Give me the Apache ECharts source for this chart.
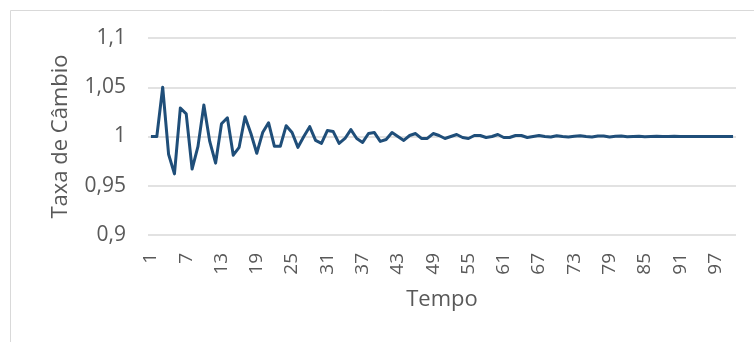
<!DOCTYPE html>
<html>
<head>
<meta charset="utf-8">
<script src="https://cdn.jsdelivr.net/npm/echarts@6/dist/echarts.min.js"></script>
<style>
  html, body { margin: 0; padding: 0; background: #ffffff; }
  #chart { width: 754px; height: 342px; }
</style>
</head>
<body>
<div id="chart"></div>
<script>
// Exchange-rate path over time (periods 1..100)
const periods = Array.from({ length: 100 }, (_, i) => String(i + 1));

const taxaCambio = [
  1.000, 1.000, 1.050, 0.982, 0.962, 1.029, 1.023, 0.967, 0.990, 1.032,
  0.995, 0.973, 1.013, 1.019, 0.981, 0.989, 1.020, 1.003, 0.983, 1.004,
  1.014, 0.990, 0.990, 1.011, 1.004, 0.989, 1.000, 1.010, 0.996, 0.993,
  1.006, 1.005, 0.993, 0.998, 1.007, 0.998, 0.994, 1.003, 1.004, 0.995,
  0.997, 1.004, 1.000, 0.996, 1.001, 1.003, 0.998, 0.998, 1.003, 1.001,
  0.998, 1.000, 1.002, 0.999, 0.998, 1.001, 1.001, 0.999, 1.000, 1.002,
  0.999, 0.999, 1.001, 1.001, 0.999, 1.000, 1.001, 1.000, 0.9995, 1.0008,
  1.000, 0.9995, 1.0003, 1.0008, 1.000, 0.9995, 1.0005, 1.0005, 0.9996, 1.0002,
  1.0004, 0.9998, 1.0000, 1.0003, 0.9998, 1.0001, 1.0002, 0.9999, 1.0000, 1.0002,
  0.9999, 1.0000, 1.0001, 1.0000, 0.9999, 1.0001, 1.0001, 1.0000, 1.0000, 1.0000
];

const yTicks = { min: 0.9, max: 1.1, step: 0.05 };

const textColor = '#595959';
const fontFamily = '"Open Sans", "Noto Sans", sans-serif';

const chart = echarts.init(document.getElementById('chart'), null, { renderer: 'canvas' });

chart.setOption({
  animation: false,
  backgroundColor: '#ffffff',
  graphic: [{
    type: 'rect',
    shape: { x: 10.5, y: 10.5, width: 800, height: 400 },
    style: { fill: 'none', stroke: '#d9d9d9', lineWidth: 1 },
    silent: true,
    z: -1
  }],
  grid: { left: 148, right: 18, top: 38, bottom: 107 },
  xAxis: {
    type: 'category',
    data: periods,
    boundaryGap: true,
    name: 'Tempo',
    nameLocation: 'middle',
    nameGap: 54,
    nameTextStyle: { color: textColor, fontFamily, fontSize: 22 },
    axisLine: { show: false },
    axisTick: { show: false },
    axisLabel: {
      interval: 5,
      rotate: 90,
      margin: 18,
      color: textColor,
      fontFamily,
      fontSize: 19
    },
    splitLine: { show: false }
  },
  yAxis: {
    type: 'value',
    min: yTicks.min,
    max: yTicks.max,
    interval: yTicks.step,
    name: 'Taxa de Câmbio',
    nameLocation: 'middle',
    nameRotate: 90,
    nameGap: 76,
    nameTextStyle: { color: textColor, fontFamily, fontSize: 22 },
    axisLine: { show: false },
    axisTick: { show: false },
    axisLabel: {
      margin: 22,
      color: textColor,
      fontFamily,
      fontSize: 21,
      formatter: v => String(Math.round(v * 100) / 100).replace('.', ',')
    },
    splitLine: { lineStyle: { color: '#d9d9d9', width: 1.5 } }
  },
  series: [{
    type: 'line',
    data: taxaCambio,
    symbol: 'none',
    smooth: false,
    lineStyle: { color: '#1f4e79', width: 3, join: 'round' }
  }]
});
</script>
</body>
</html>
